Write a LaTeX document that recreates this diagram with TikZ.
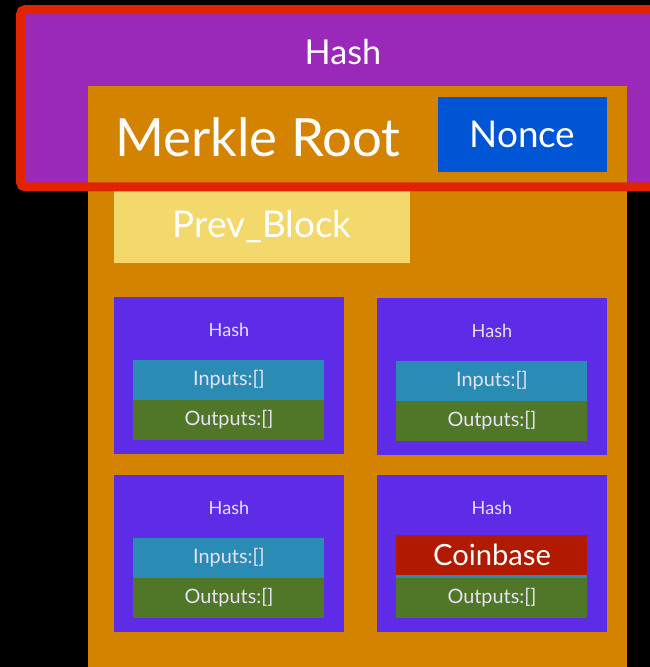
\documentclass[tikz,border=0pt]{standalone}
\usepackage{fontspec}
\setmainfont{Lato}
\usetikzlibrary{positioning}

\definecolor{hdrpurple}{HTML}{9A29BA}
\definecolor{blockorange}{HTML}{D48300}
\definecolor{hdrred}{HTML}{E02400}
\definecolor{nonceblue}{HTML}{0055D4}
\definecolor{prevyellow}{HTML}{F3D96B}
\definecolor{txpurple}{HTML}{5E2BE6}
\definecolor{incyan}{HTML}{2A8CB4}
\definecolor{outgreen}{HTML}{507628}
\definecolor{coinred}{HTML}{B21A00}
\definecolor{smalltext}{HTML}{E8E2F6}

\begin{document}
\begin{tikzpicture}[x=0.02cm, y=-0.02cm,
    box/.style={inner sep=0pt, outer sep=0pt, text=white},
    txbox/.style={box, anchor=north west, fill=txpurple, minimum width=4.6cm, minimum height=3.14cm},
    field/.style={box, fill=#1, minimum width=3.82cm, minimum height=0.8cm, text=smalltext, font=\fontsize{11.3}{13}\selectfont}]
    \fill[black] (0,0) rectangle (650,667);
    \useasboundingbox (0,0) rectangle (650,667);
    \clip (0,0) rectangle (650,667);

    % header and block body
    \node (header) [box, anchor=north west, fill=hdrpurple, minimum width=13.19cm, minimum height=3.55cm] at (20.5,9.5) {};
    \node (hdrhash) [box, font=\fontsize{19.5}{23}\selectfont] at (343,52) {Hash};
    \node (block) [box, anchor=north west, fill=blockorange, minimum width=10.78cm, minimum height=12cm] at (88,86) {};
    \node (merkle) [box, font=\fontsize{30}{35}\selectfont] at (258,137) {Merkle Root};
    \node (nonce) [box, anchor=north west, fill=nonceblue, minimum width=3.38cm, minimum height=1.5cm, font=\fontsize{21}{25}\selectfont] at (438,97) {Nonce};
    \node (prev) [box, anchor=north west, fill=prevyellow, minimum width=5.92cm, minimum height=1.44cm, font=\fontsize{21}{25}\selectfont] at (114,191) {Prev\_Block};

    % transactions
    \foreach \n/\x/\y/\intext in {1/114/297/Inputs:[], 2/377/298/Inputs:[], 3/114/475/Inputs:[], 4/377/475/{}} {
        \node (tx\n) [txbox] at (\x,\y) {};
        \node (txhash\n) [box, text=smalltext, font=\fontsize{10.3}{12}\selectfont, below=0.66cm of tx\n.north, anchor=center] {Hash};
        \node (in\n) [field=incyan, below=1.26cm of tx\n.north] {\intext};
        \node (out\n) [field=outgreen, below=0cm of in\n] {Outputs:[]};
    }
    \node (coinbase) [field=coinred, text=white, font=\fontsize{16.6}{20}\selectfont, above=-0.74cm of in4.north] {Coinbase};

    \draw [hdrred, line width=0.18cm, rounded corners=0.1cm] (header.north west) rectangle (header.south east);
\end{tikzpicture}
\end{document}
